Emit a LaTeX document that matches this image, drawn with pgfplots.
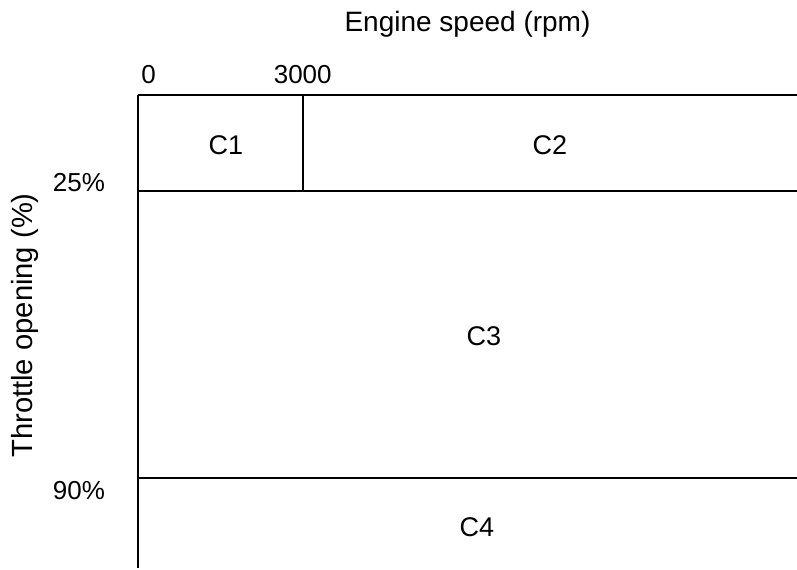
\documentclass[border=0pt]{standalone}
\usepackage{fontspec}
\setmainfont{Liberation Sans}
\usepackage{pgfplots}
\pgfplotsset{compat=1.18}
\begin{document}
\begin{tikzpicture}
\useasboundingbox (-69pt,-0.5pt) rectangle (329.5pt,284pt);
\begin{axis}[
  at={(0,0)}, anchor=south west,
  scale only axis, width=329.5pt, height=236.5pt,
  xmin=0, xmax=12000, ymin=0, ymax=473,
  clip=false,
  axis x line*=top, axis y line*=left,
  axis line style={line width=1pt, -},
  major tick length=0pt,
  xtick={0,3000}, xticklabels={\hspace*{10.5pt}0, 3000},
  ytick={90,377}, yticklabels={\raisebox{-6.5pt}[\height][\depth]{90\%}, \raisebox{4pt}[\height][\depth]{25\%}},
  scaled x ticks=false,
  tick label style={font=\fontsize{13}{15}\selectfont},
  xticklabel style={yshift=2pt},
  yticklabel style={xshift=-13pt},
  xlabel={Engine speed (rpm)},
  ylabel={Throttle opening (\%)},
  xlabel style={font=\fontsize{14}{16}\selectfont, at={(axis description cs:0.5,1)}, anchor=base, yshift=31.5pt},
  ylabel style={font=\fontsize{14.6}{16}\selectfont, at={(axis description cs:0,0.5)}, anchor=center, yshift=56.5pt, xshift=3pt},
]
\addplot[black, line width=1pt] coordinates {(0,377) (12000,377)};
\addplot[black, line width=1pt] coordinates {(3000,377) (3000,473)};
\addplot[black, line width=1pt] coordinates {(0,90) (12000,90)};
\node[font=\fontsize{13.5}{15}\selectfont] at (axis cs:1600,423) {C1};
\node[font=\fontsize{13.5}{15}\selectfont] at (axis cs:7500,423) {C2};
\node[font=\fontsize{13.5}{15}\selectfont] at (axis cs:6300,232) {C3};
\node[font=\fontsize{13.5}{15}\selectfont] at (axis cs:6170,41) {C4};
\end{axis}
\end{tikzpicture}
\end{document}
